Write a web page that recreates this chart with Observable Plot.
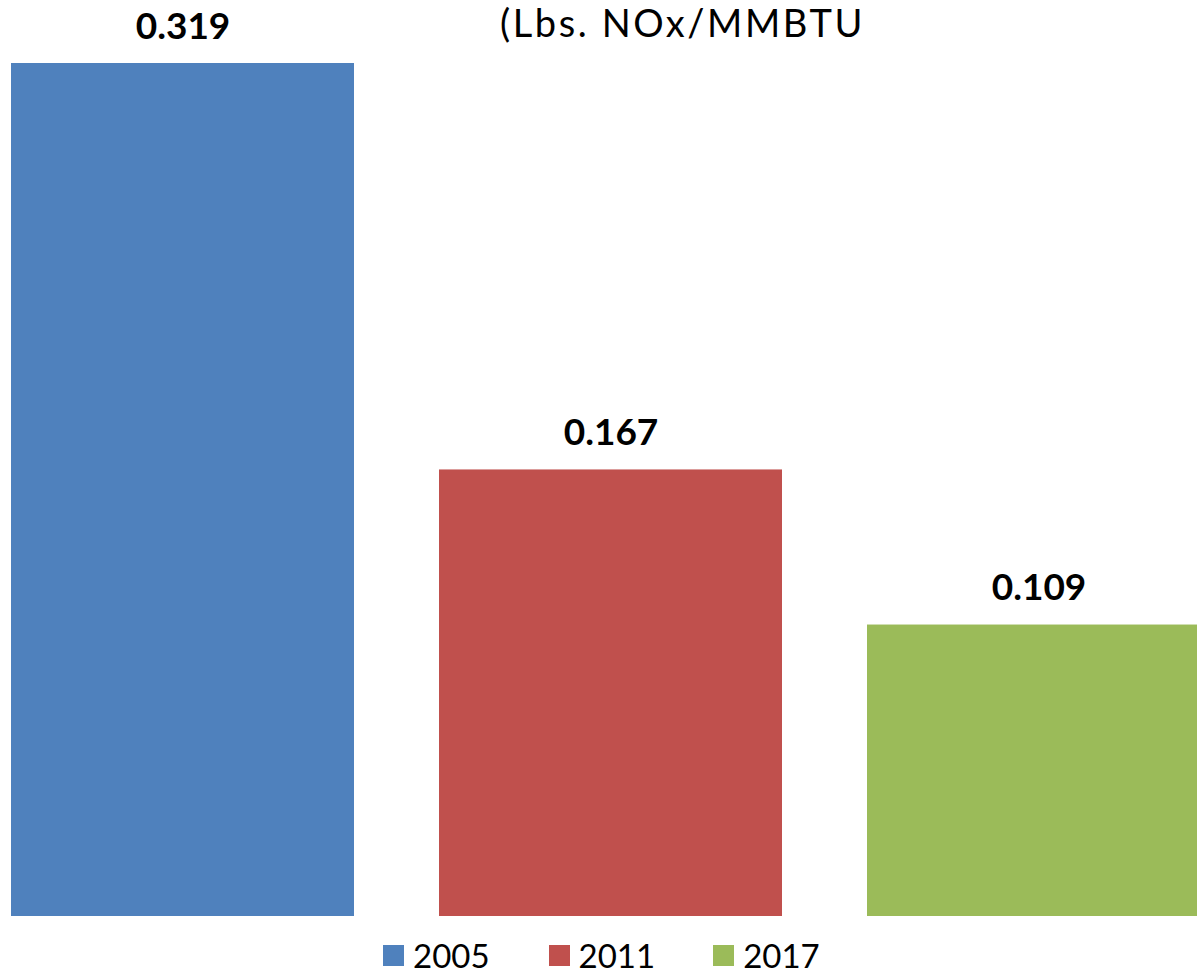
<!DOCTYPE html>
<html>
<head>
<meta charset="utf-8">
<script src="https://cdn.jsdelivr.net/npm/d3@7"></script>
<script src="https://cdn.jsdelivr.net/npm/@observablehq/plot@0.6"></script>
<style>
  html, body { margin: 0; padding: 0; background: #fff; overflow: hidden; }
  #wrap { position: relative; width: 1197px; height: 977px; overflow: hidden; font-family: Lato, "Open Sans", sans-serif; }
  #title { position: absolute; top: 0px; left: 500px; font-size: 38px; letter-spacing: 2.6px; color: #000; white-space: nowrap; line-height: 1.2; }
  #legend { position: absolute; top: 939px; left: 383px; display: flex; align-items: center; font-size: 33px; color: #000; line-height: 1; }
  .item { display: flex; align-items: center; }
  .sw { width: 21px; height: 21px; margin-right: 9px; }
  svg { overflow: hidden; }
</style>
</head>
<body>
<div id="wrap">
  <div id="chart"></div>
  <div id="title"></div>
  <div id="legend"></div>
</div>
<script>
const years = ["2005", "2011", "2017"];
const values = [0.319, 0.167, 0.109];
const colors = ["#4F81BD", "#C0504D", "#9BBB59"];
const labels = ["0.319", "0.167", "0.109"];
const titleText = "(Lbs. NOx/MMBTU";

const data = years.map((y, i) => ({year: y, value: values[i], label: labels[i]}));

const chart = Plot.plot({
  width: 1197,
  height: 935,
  marginLeft: 0,
  marginRight: 0,
  marginTop: 0,
  marginBottom: 0,
  style: {background: "#fff", overflow: "hidden"},
  x: {type: "band", domain: years, range: [10, 1212], paddingInner: 0.198, paddingOuter: 0, axis: null},
  y: {domain: [0, 0.319], range: [916, 63], axis: null},
  color: {domain: years, range: colors},
  marks: [
    Plot.barY(data, {x: "year", y: "value", fill: "year"}),
    Plot.text(data, {x: "year", y: "value", text: "label", lineAnchor: "bottom", dy: -25,
      fontSize: 37, fontWeight: "bold", fill: "#000", fontFamily: "Lato, sans-serif"})
  ]
});
document.getElementById("chart").appendChild(chart);
document.getElementById("title").textContent = titleText;

const legend = document.getElementById("legend");
const gaps = [0, 59, 58];
years.forEach((y, i) => {
  const it = document.createElement("div");
  it.className = "item";
  if (i > 0) it.style.marginLeft = gaps[i] + "px";
  const sw = document.createElement("div");
  sw.className = "sw";
  sw.style.background = colors[i];
  const t = document.createElement("span");
  t.textContent = y;
  it.appendChild(sw);
  it.appendChild(t);
  legend.appendChild(it);
});
</script>
</body>
</html>
